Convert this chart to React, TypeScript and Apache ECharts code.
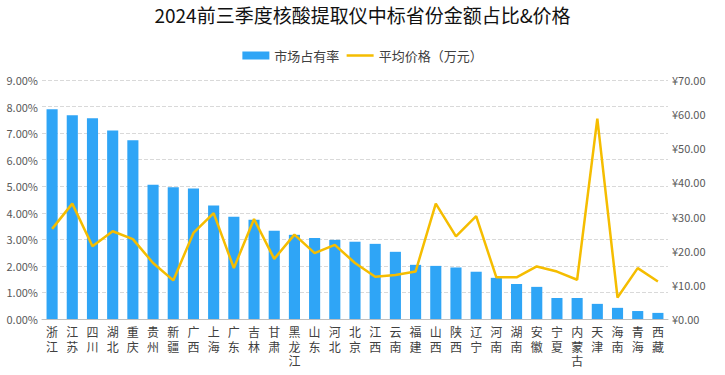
import React, { useEffect, useRef } from "react";
import * as echarts from "echarts";

const titleText = "2024前三季度核酸提取仪中标省份金额占比&价格";
const barName = "市场占有率";
const lineName = "平均价格（万元）";

const provinces = [
  "浙江", "江苏", "四川", "湖北", "重庆", "贵州", "新疆", "广西", "上海", "广东",
  "吉林", "甘肃", "黑龙江", "山东", "河北", "北京", "江西", "云南", "福建", "山西",
  "陕西", "辽宁", "河南", "湖南", "安徽", "宁夏", "内蒙古", "天津", "海南", "青海", "西藏",
];

const shareValues = [
  7.9, 7.67, 7.56, 7.1, 6.73, 5.06, 4.96, 4.91, 4.27, 3.85,
  3.74, 3.32, 3.17, 3.05, 2.98, 2.91, 2.83, 2.53, 2.04, 2.0,
  1.94, 1.78, 1.55, 1.32, 1.21, 0.79, 0.79, 0.57, 0.42, 0.3, 0.23,
];

const priceValues = [
  26.4, 33.8, 21.3, 25.7, 23.4, 16.4, 11.3, 25.2, 31.0, 14.9,
  29.3, 17.6, 24.7, 19.3, 21.7, 16.4, 12.4, 12.9, 13.9, 33.8,
  24.2, 30.1, 12.2, 12.2, 15.4, 13.9, 11.5, 58.7, 6.3, 14.9, 11.0,
];

export default function App() {
  const ref = useRef<HTMLDivElement>(null);
  useEffect(() => {
    if (!ref.current) return;
    const chart = echarts.init(ref.current, undefined, { renderer: "svg" });
    const font = "'Noto Sans CJK SC', 'Noto Sans', sans-serif";
    const labelFont = "'Liberation Sans', 'Noto Sans CJK SC', sans-serif";
    chart.setOption({
      animation: false,
      backgroundColor: "#ffffff",
      textStyle: { fontFamily: font },
      title: {
        text: titleText,
        left: "center",
        top: 0,
        textStyle: { fontSize: 19, fontWeight: "normal", color: "#111111", fontFamily: font },
      },
      legend: {
        top: 44,
        left: "center",
        itemWidth: 27,
        itemHeight: 8,
        itemGap: 6,
        textStyle: { fontSize: 13, color: "#404040", fontFamily: font },
        data: [
          { name: barName, icon: "rect" },
          {
            name: lineName,
            itemStyle: { opacity: 0 },
            lineStyle: { color: "#F5BD00", width: 2.5, opacity: 1 },
          },
        ],
      },
      grid: { left: 42, right: 57, top: 80, bottom: 56, containLabel: false },
      xAxis: {
        type: "category",
        data: provinces,
        axisTick: { show: false },
        axisLine: { lineStyle: { color: "#bfbfbf" } },
        axisLabel: {
          interval: 0,
          color: "#404040",
          fontSize: 12,
          lineHeight: 14.5,
          margin: 7,
          fontFamily: labelFont,
          formatter: (v: string) => v.split("").join("\n"),
        },
      },
      yAxis: [
        {
          type: "value",
          min: 0,
          max: 9,
          interval: 1,
          axisLine: { show: false },
          axisTick: { show: false },
          splitLine: { lineStyle: { color: "#d9d9d9", type: "dashed" } },
          axisLabel: {
            color: "#595959",
            fontSize: 11,
            margin: 4,
            formatter: (v: number) => v.toFixed(2) + "%",
          },
        },
        {
          type: "value",
          min: 0,
          max: 70,
          interval: 10,
          axisLine: { show: false },
          axisTick: { show: false },
          splitLine: { show: false },
          axisLabel: {
            color: "#595959",
            fontSize: 11,
            margin: 4,
            formatter: (v: number) => "¥" + v.toFixed(2),
          },
        },
      ],
      series: [
        {
          name: barName,
          type: "bar",
          data: shareValues,
          barWidth: "55%",
          itemStyle: { color: "#2FA5F6" },
        },
        {
          name: lineName,
          type: "line",
          yAxisIndex: 1,
          data: priceValues,
          symbol: "none",
          lineStyle: { color: "#F5BD00", width: 2.5 },
          itemStyle: { color: "#F5BD00" },
        },
      ],
    });
    return () => chart.dispose();
  }, []);
  return <div ref={ref} style={{ width: 725, height: 375, position: "absolute", left: 0, top: 0 }} />;
}
